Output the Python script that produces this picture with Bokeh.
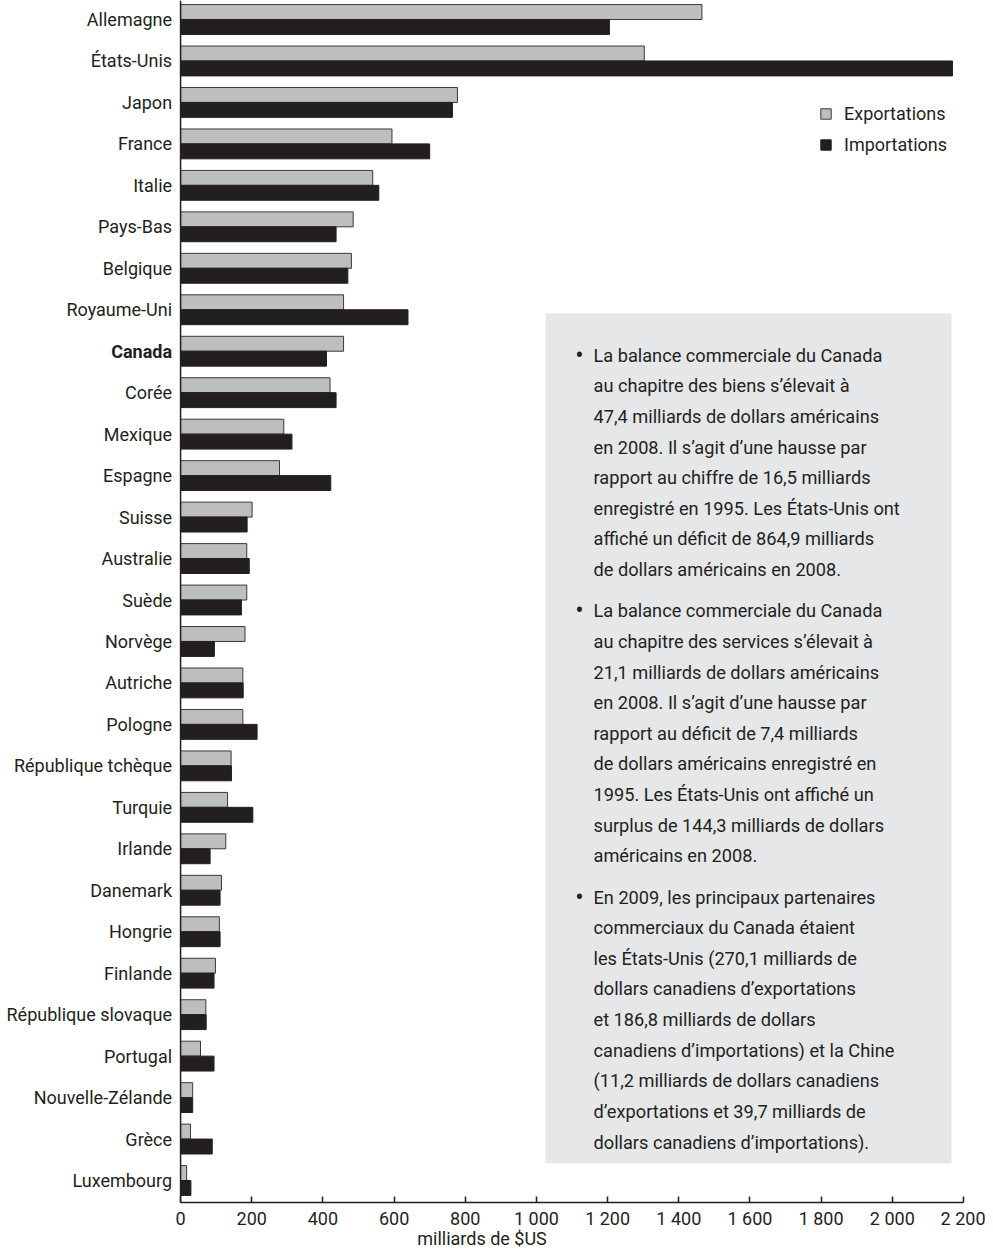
from bokeh.plotting import figure
from bokeh.models import (ColumnDataSource, Range1d, FixedTicker, Label, Span,
                          BoxAnnotation, Legend, LegendItem)
from bokeh.transform import dodge
from bokeh.embed import file_html
from bokeh.resources import INLINE
from bokeh.core.properties import value

# ---------------- data ----------------
countries = ["Allemagne", "États-Unis", "Japon", "France", "Italie", "Pays-Bas",
             "Belgique", "Royaume-Uni", "Canada", "Corée", "Mexique", "Espagne",
             "Suisse", "Australie", "Suède", "Norvège", "Autriche", "Pologne",
             "République tchèque", "Turquie", "Irlande", "Danemark", "Hongrie",
             "Finlande", "République slovaque", "Portugal", "Nouvelle-Zélande",
             "Grèce", "Luxembourg"]
exportations = [1465, 1303, 778, 594, 540, 485, 480, 458, 458, 420, 290, 278,
                201, 186, 186, 181, 175, 175, 142, 132, 127, 115, 109, 98,
                71, 56, 34, 28, 17]
importations = [1205, 2169, 764, 700, 557, 437, 470, 639, 410, 437, 313, 422,
                187, 193, 171, 95, 176, 215, 143, 203, 83, 111, 111, 94,
                72, 94, 34, 89, 29]
highlight = "Canada"

x_ticks = [0, 200, 400, 600, 800, 1000, 1200, 1400, 1600, 1800, 2000, 2200]
x_tick_labels = ["0", "200", "400", "600", "800", "1 000", "1 200", "1 400",
                 "1 600", "1 800", "2 000", "2 200"]
x_title = "milliards de $US"
series_names = ["Exportations", "Importations"]

paragraphs = [
    ["La balance commerciale du Canada",
     "au chapitre des biens s’élevait à",
     "47,4 milliards de dollars américains",
     "en 2008. Il s’agit d’une hausse par",
     "rapport au chiffre de 16,5 milliards",
     "enregistré en 1995. Les États-Unis ont",
     "affiché un déficit de 864,9 milliards",
     "de dollars américains en 2008."],
    ["La balance commerciale du Canada",
     "au chapitre des services s’élevait à",
     "21,1 milliards de dollars américains",
     "en 2008. Il s’agit d’une hausse par",
     "rapport au déficit de 7,4 milliards",
     "de dollars américains enregistré en",
     "1995. Les États-Unis ont affiché un",
     "surplus de 144,3 milliards de dollars",
     "américains en 2008."],
    ["En 2009, les principaux partenaires",
     "commerciaux du Canada étaient",
     "les États-Unis (270,1 milliards de",
     "dollars canadiens d’exportations",
     "et 186,8 milliards de dollars",
     "canadiens d’importations) et la Chine",
     "(11,2 milliards de dollars canadiens",
     "d’exportations et 39,7 milliards de",
     "dollars canadiens d’importations)."],
]

# ---------------- styling ----------------
FONT = "Roboto"
TXT = "#231f20"
EXP_FILL = "#bcbec0"
IMP_FILL = "#231f20"
FS = "18px"
BOX_FS = "18.2px"
BULLET_FS = "25px"

N = len(countries)
idx = list(range(N))
styles = ["bold" if c == highlight else "normal" for c in countries]
src = ColumnDataSource(dict(idx=idx, country=countries, style=styles,
                            exp=exportations, imp=importations))

FRAME_W = 963.0
FRAME_H = 1203.0
X0 = -506           # room on the left of zero for the category labels
Y_TOP = -0.458
Y_BOT = N - 1 + 0.53

p = figure(width=985, height=1251, output_backend="svg", toolbar_location=None,
           title=None, x_range=Range1d(X0, 2200),
           y_range=Range1d(start=Y_BOT, end=Y_TOP),
           min_border_left=0, min_border_right=22, min_border_top=0,
           min_border_bottom=48)
p.outline_line_color = None
p.xgrid.visible = False
p.ygrid.visible = False
p.yaxis.visible = False
p.background_fill_color = "white"

bh = 0.36
r_exp = p.hbar(y=dodge("idx", -bh / 2, range=p.y_range), left=0, right="exp",
               height=bh, source=src, fill_color=EXP_FILL, line_color="#3a3a3a",
               line_width=1)
r_imp = p.hbar(y=dodge("idx", bh / 2, range=p.y_range), left=0, right="imp",
               height=bh, source=src, fill_color=IMP_FILL, line_color=IMP_FILL,
               line_width=1)

# category labels (Canada in bold)
p.text(x=0, y="idx", text="country", source=src, x_offset=-8.5,
       text_align="right", text_baseline="middle", text_font=value(FONT),
       text_font_size=value(FS), text_font_style="style", text_color=TXT)

# vertical axis line at zero
p.add_layout(Span(location=0, dimension="height", line_color=TXT, line_width=1.5))

# x axis
xa = p.xaxis[0]
xa.bounds = (x_ticks[0], x_ticks[-1])
xa.ticker = FixedTicker(ticks=x_ticks)
xa.major_label_overrides = {t: l for t, l in zip(x_ticks, x_tick_labels)}
xa.major_tick_in = 6
xa.major_tick_out = 0
xa.minor_tick_in = 0
xa.minor_tick_out = 0
xa.axis_line_color = TXT
xa.axis_line_width = 1.5
xa.major_tick_line_color = TXT
xa.major_tick_line_width = 1.5
xa.major_label_text_font = FONT
xa.major_label_text_font_size = FS
xa.major_label_text_color = TXT
xa.major_label_standoff = 5
xa.axis_label = x_title
xa.axis_label_standoff = -4
xa.axis_label_text_font = FONT
xa.axis_label_text_font_size = FS
xa.axis_label_text_font_style = "normal"
xa.axis_label_text_color = TXT

# legend
legend = Legend(items=[LegendItem(label=series_names[0], renderers=[r_exp]),
                       LegendItem(label=series_names[1], renderers=[r_imp])],
                location=(819, 1047), orientation="vertical",
                glyph_width=13, glyph_height=13, label_standoff=12, spacing=10,
                padding=0, margin=0, border_line_color=None,
                background_fill_alpha=0, label_text_font=FONT,
                label_text_font_size=FS, label_text_color=TXT)
p.add_layout(legend)

# text box (page pixel -> data helpers for annotation placement)
PXU = FRAME_W / (2200 - X0)
PYU = FRAME_H / (Y_BOT - Y_TOP)


def dx(page_x):
    return X0 + page_x / PXU


def dy(page_y):
    return Y_TOP + page_y / PYU


p.add_layout(BoxAnnotation(left=dx(545), right=dx(951), top=dy(313), bottom=dy(1164),
                           fill_color="#e6e7e8", fill_alpha=1, line_color=None))

line_h = 30.65
para_gap = 41.3
base = 355.0
for para in paragraphs:
    p.add_layout(Label(x=dx(579), y=dy(base), text="•", text_align="center",
                       text_baseline="alphabetic", text_font=FONT,
                       text_font_size=BULLET_FS, text_color=TXT))
    for k, line in enumerate(para):
        p.add_layout(Label(x=dx(593), y=dy(base + k * line_h), text=line,
                           text_align="left", text_baseline="alphabetic",
                           text_font=FONT, text_font_size=BOX_FS,
                           text_color=TXT))
    base = base + (len(para) - 1) * line_h + para_gap

open("out.html", "w").write(file_html(p, INLINE))
